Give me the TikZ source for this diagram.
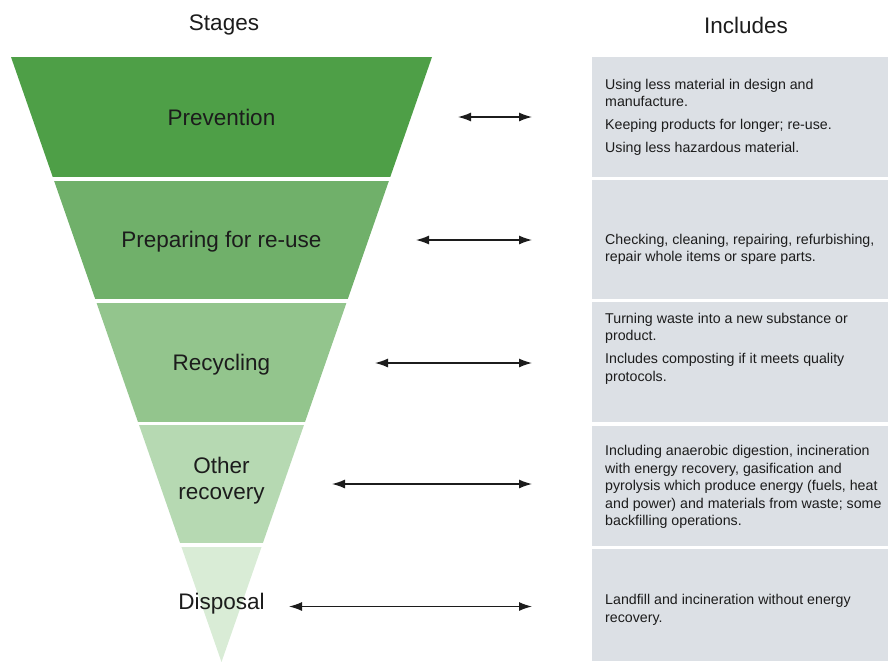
\documentclass[tikz,border=0pt]{standalone}
\usepackage{fontspec}
\setmainfont{Liberation Sans}
\usetikzlibrary{arrows.meta}
\definecolor{gA}{HTML}{4E9F47}
\definecolor{gB}{HTML}{70B06A}
\definecolor{gC}{HTML}{93C58D}
\definecolor{gD}{HTML}{B6D9B2}
\definecolor{gE}{HTML}{D9ECD6}
\definecolor{boxc}{HTML}{DCE0E5}
\definecolor{txt}{HTML}{1C1C1C}
\tikzset{
  stagelbl/.style={font=\fontsize{22.5}{26}\selectfont, text=txt, align=center, inner sep=0pt},
  headlbl/.style={font=\fontsize{22.5}{26}\selectfont, text=txt, inner sep=0pt},
  desc/.style={font=\fontsize{14.2}{17.6}\selectfont, text=txt, align=left, anchor=west, inner sep=0pt},
  link/.style={draw=txt, line width=1.3pt, {Latex[length=13pt,width=9pt]}-{Latex[length=13pt,width=9pt]}},
  infobox/.style={fill=boxc, draw=none}
}
\begin{document}
\begin{tikzpicture}[x=1pt,y=-1pt]
\useasboundingbox (0,0) rectangle (888,662);
% funnel bands
\begin{scope}
\clip (11,57) -- (432,57) -- (221.5,662) -- cycle;
\fill[gA] (0,57) rectangle (443,176.7);
\fill[gB] (0,180.7) rectangle (443,299);
\fill[gC] (0,302.7) rectangle (443,421.7);
\fill[gD] (0,425) rectangle (443,543);
\fill[gE] (0,546.7) rectangle (443,662);
\end{scope}
% right boxes
\fill[infobox] (591.7,57) rectangle (888,176.5);
\fill[infobox] (591.7,179.5) rectangle (888,298.5);
\fill[infobox] (591.7,302) rectangle (888,422);
\fill[infobox] (591.7,425.5) rectangle (888,546);
\fill[infobox] (591.7,548.5) rectangle (888,661);
% headings
\node[headlbl] (stages) at (224,25) {Stages};
\node[headlbl] (includes) at (746,25) {Includes};
% stage labels
\node[stagelbl] (prev) at (221.5,117) {Prevention};
\node[stagelbl] (prep) at (221.5,242) {Preparing for re-use};
\node[stagelbl] (recy) at (221.5,365) {Recycling};
\node[stagelbl] (other) at (221.5,481) {Other\\recovery};
\node[stagelbl] (disp) at (221.5,604) {Disposal};
% descriptions
\node[desc] (d1) at (605,117) {Using less material in design and\\manufacture.\\[5pt]Keeping products for longer; re-use.\\[5pt]Using less hazardous material.};
\node[desc] (d2) at (605,249.5) {Checking, cleaning, repairing, refurbishing,\\repair whole items or spare parts.};
\node[desc] (d3) at (605,348.5) {Turning waste into a new substance or\\product.\\[5pt]Includes composting if it meets quality\\protocols.};
\node[desc] (d4) at (605,487) {Including anaerobic digestion, incineration\\with energy recovery, gasification and\\pyrolysis which produce energy (fuels, heat\\and power) and materials from waste; some\\backfilling operations.};
\node[desc] (d5) at (605,610) {Landfill and incineration without energy\\recovery.};
% arrow end points
\coordinate (a1l) at (458,117);   \coordinate (a1r) at (532,117);
\coordinate (a2l) at (416,240);   \coordinate (a2r) at (532,240);
\coordinate (a3l) at (375,363);   \coordinate (a3r) at (532,363);
\coordinate (a4l) at (332,484);   \coordinate (a4r) at (532,484);
\coordinate (a5l) at (289,606.5); \coordinate (a5r) at (532,606.5);
\draw[link] (a1l) -- (a1r);
\draw[link] (a2l) -- (a2r);
\draw[link] (a3l) -- (a3r);
\draw[link] (a4l) -- (a4r);
\draw[link] (a5l) -- (a5r);
\end{tikzpicture}
\end{document}
